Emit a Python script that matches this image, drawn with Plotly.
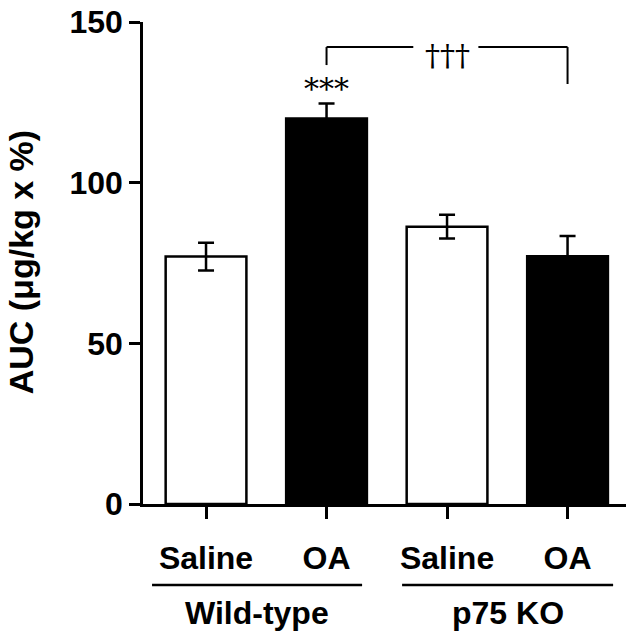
import plotly.graph_objects as go

# data
groups = ["Wild-type", "p75 KO"]
treatments = ["Saline", "OA", "Saline", "OA"]
auc_mean = [77, 120, 86.3, 77.1]
auc_sem = [4.3, 4.6, 3.7, 6.3]
bar_fill = ["white", "black", "white", "black"]
y_ticks = [0, 50, 100, 150]

xpos = list(range(len(treatments)))
font_bold = dict(family="Liberation Sans, Arial", size=32, color="black", weight="bold")

fig = go.Figure()
fig.add_trace(go.Bar(
    x=xpos, y=auc_mean, width=0.67,
    marker=dict(color=bar_fill, line=dict(color="black", width=2.5)),
    error_y=dict(type="data", array=auc_sem, visible=True, color="black", thickness=2.5, width=8),
    showlegend=False,
))

# significance marks
fig.add_annotation(x=1, y=129.3, text="***", showarrow=False,
                   font=dict(family="DejaVu Serif", size=30, color="black"))
bracket_y = 142.2
fig.add_shape(type="line", x0=1, x1=1, y0=136.6, y1=bracket_y, line=dict(color="black", width=2))
fig.add_shape(type="line", x0=1, x1=1.72, y0=bracket_y, y1=bracket_y, line=dict(color="black", width=2))
fig.add_shape(type="line", x0=2.26, x1=3, y0=bracket_y, y1=bracket_y, line=dict(color="black", width=2))
fig.add_shape(type="line", x0=3, x1=3, y0=bracket_y, y1=130.7, line=dict(color="black", width=2))
fig.add_annotation(x=2, y=bracket_y - 2.5, text="†††", showarrow=False,
                   font=dict(family="DejaVu Serif", size=30, color="black"))

# group labels under the treatment labels
group_spans = [(-0.448, 1.295), (1.627, 3.378)]
for name, (a, b) in zip(groups, group_spans):
    fig.add_shape(type="line", xref="x", yref="paper", x0=a, x1=b, y0=-0.168, y1=-0.168,
                  line=dict(color="black", width=2.5))
    fig.add_annotation(x=(a + b) / 2, xref="x", y=-0.226, yref="paper", text=name,
                       showarrow=False, font=font_bold, yanchor="middle")

# y title as rotated annotation
fig.add_annotation(x=-0.252, xref="paper", y=0.502, yref="paper", text="AUC (μg/kg x %)",
                   textangle=-90, showarrow=False, font=dict(font_bold, size=34),
                   xanchor="center", yanchor="middle")

fig.update_xaxes(
    range=[-0.523, 3.485], tickvals=xpos, ticktext=treatments,
    showline=True, linecolor="black", linewidth=2.5,
    ticks="outside", ticklen=12, tickwidth=2.5, tickcolor="black",
    ticklabelstandoff=12, tickfont=font_bold, showgrid=False, zeroline=False,
    automargin=False,
)
fig.update_yaxes(
    range=[0, 150], tickvals=y_ticks,
    showline=True, linecolor="black", linewidth=2.5,
    ticks="outside", ticklen=11, tickwidth=2.5, tickcolor="black",
    tickfont=font_bold, showgrid=False, zeroline=False, automargin=False,
)
fig.update_layout(
    width=633, height=640,
    margin=dict(l=143, r=7, t=22, b=136),
    plot_bgcolor="white", paper_bgcolor="white",
)
# drop the default 8px page margin so the figure sits at the window corner
fig.write_html("out.html", config={"displayModeBar": False},
               post_script="document.body.style.margin='0';")
